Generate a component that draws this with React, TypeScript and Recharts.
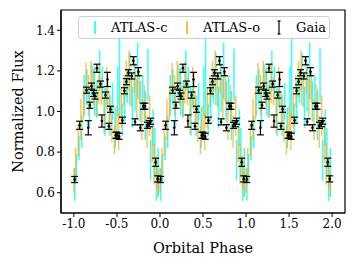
import { ComposedChart, Scatter, ErrorBar, XAxis, YAxis, ReferenceArea } from 'recharts';

// one orbital cycle, drawn again at phase -1, 0 and +1
const cycles = [-1, 0, 1];

const atlasCPhase = [0.01, 0.03, 0.06, 0.09, 0.12, 0.15, 0.18, 0.21, 0.24, 0.27, 0.3, 0.33, 0.36, 0.39, 0.42, 0.45, 0.48, 0.51, 0.53, 0.56, 0.59, 0.62, 0.65, 0.68, 0.71, 0.74, 0.77, 0.8, 0.83, 0.86, 0.89, 0.92, 0.94, 0.96, 0.98];
const atlasCFlux = [0.64, 0.72, 0.82, 0.9, 1.08, 1.12, 1.02, 1.15, 1.1, 1.06, 1.2, 1.14, 1.0, 1.08, 0.98, 1.05, 0.92, 1.1, 1.16, 0.96, 1.05, 1.12, 1.16, 1.02, 1.12, 1.2, 1.05, 1.1, 0.98, 1.18, 0.76, 0.92, 0.8, 0.66, 0.7];
const atlasCErr = [0.08, 0.07, 0.06, 0.08, 0.1, 0.09, 0.1, 0.08, 0.12, 0.09, 0.1, 0.08, 0.12, 0.07, 0.1, 0.09, 0.1, 0.12, 0.2, 0.08, 0.1, 0.08, 0.13, 0.1, 0.12, 0.14, 0.1, 0.08, 0.12, 0.13, 0.1, 0.09, 0.12, 0.1, 0.12];

const atlasOPhase = [0.0, 0.02, 0.05, 0.08, 0.11, 0.14, 0.17, 0.2, 0.23, 0.26, 0.29, 0.32, 0.35, 0.38, 0.41, 0.44, 0.47, 0.5, 0.52, 0.55, 0.58, 0.61, 0.64, 0.67, 0.7, 0.73, 0.76, 0.79, 0.82, 0.85, 0.88, 0.91, 0.93, 0.96, 0.98];
const atlasOFlux = [0.66, 0.74, 0.86, 0.96, 1.04, 1.16, 1.08, 1.18, 1.12, 1.05, 1.14, 1.1, 0.98, 1.12, 1.02, 0.94, 0.86, 0.95, 0.9, 1.02, 1.1, 1.16, 1.2, 1.1, 1.18, 1.06, 1.12, 0.96, 1.04, 0.9, 0.98, 0.84, 0.74, 0.7, 0.64];
const atlasOErr = [0.06, 0.08, 0.08, 0.1, 0.08, 0.08, 0.1, 0.07, 0.09, 0.08, 0.1, 0.07, 0.09, 0.1, 0.08, 0.09, 0.07, 0.08, 0.09, 0.1, 0.08, 0.09, 0.1, 0.08, 0.09, 0.1, 0.08, 0.1, 0.09, 0.08, 0.1, 0.09, 0.1, 0.08, 0.06];

const gaiaPhase = [0.008, 0.066, 0.147, 0.167, 0.186, 0.205, 0.228, 0.244, 0.267, 0.309, 0.325, 0.367, 0.39, 0.406, 0.425, 0.487, 0.5, 0.525, 0.564, 0.587, 0.61, 0.633, 0.672, 0.691, 0.711, 0.749, 0.772, 0.807, 0.826, 0.853, 0.876, 0.892, 0.95, 0.973];
const gaiaFlux = [0.665, 0.932, 1.105, 0.92, 1.031, 1.125, 1.089, 1.076, 1.213, 1.135, 0.953, 1.081, 1.158, 0.927, 1.011, 0.883, 0.883, 0.878, 0.957, 1.102, 1.147, 1.191, 1.175, 1.25, 0.949, 1.196, 0.92, 1.026, 1.026, 0.932, 0.94, 0.952, 0.75, 0.668];
const gaiaErr = [0.015, 0.02, 0.015, 0.035, 0.015, 0.015, 0.015, 0.015, 0.02, 0.015, 0.03, 0.015, 0.035, 0.015, 0.015, 0.015, 0.015, 0.015, 0.015, 0.015, 0.015, 0.015, 0.015, 0.02, 0.015, 0.02, 0.015, 0.015, 0.015, 0.015, 0.015, 0.015, 0.02, 0.015];

const xTicks = [-1, -0.5, 0, 0.5, 1, 1.5, 2];
const yTicks = [0.6, 0.8, 1.0, 1.2, 1.4];

const fold = (ph: number[], fl: number[], er: number[]) =>
  cycles.flatMap((c) => ph.map((p, i) => ({ x: p + c, y: fl[i], err: er[i] })));

const atlasC = fold(atlasCPhase, atlasCFlux, atlasCErr);
const atlasO = fold(atlasOPhase, atlasOFlux, atlasOErr);
const gaia = fold(gaiaPhase, gaiaFlux, gaiaErr);

const FONT = '"DejaVu Serif", serif';
const CYAN = '#00ffff';
const ORANGE = '#ffa500';

const noShape = () => <g />;
const dot = (p: any) => <circle cx={p.cx} cy={p.cy} r={1.3} fill="#000" />;

const Legend = () => (
  <div
    style={{
      position: 'absolute', left: 78, top: 16, width: 250, height: 21,
      border: '1px solid #d0d0d0', borderRadius: 3, background: 'rgba(255,255,255,0.8)',
      fontFamily: FONT, fontSize: 13, color: '#000',
    }}
  >
    <svg width={250} height={21} style={{ position: 'absolute', left: 0, top: 0 }}>
      <line x1={16} x2={16} y1={4} y2={17} stroke={CYAN} strokeWidth={1.5} />
      <line x1={108} x2={108} y1={4} y2={17} stroke={ORANGE} strokeWidth={1.5} />
      <line x1={200} x2={200} y1={4} y2={17} stroke="#000" strokeWidth={1.2} />
      <line x1={198.5} x2={201.5} y1={4} y2={4} stroke="#000" strokeWidth={1.2} />
      <line x1={198.5} x2={201.5} y1={17} y2={17} stroke="#000" strokeWidth={1.2} />
      <text x={32} y={15} fontFamily={FONT} fontSize={13}>ATLAS-c</text>
      <text x={124} y={15} fontFamily={FONT} fontSize={13}>ATLAS-o</text>
      <text x={217} y={15} fontFamily={FONT} fontSize={13}>Gaia</text>
    </svg>
  </div>
);

export default function App() {
  return (
    <div style={{ position: 'absolute', left: 0, top: 0, width: 356, height: 266, background: '#fff' }}>
      <ComposedChart width={356} height={266} margin={{ top: 10, right: 11, bottom: 0, left: 0 }}>
        <XAxis
          type="number" dataKey="x" domain={[-1.15, 2.15]} ticks={xTicks} height={53}
          tickFormatter={(v: number) => v.toFixed(1)} interval={0} allowDataOverflow
          axisLine={{ stroke: '#000', strokeWidth: 1.2 }} tickLine={{ stroke: '#000' }} tickSize={4}
          tick={{ fill: '#000', fontFamily: FONT, fontSize: 12 }}
          label={{
            content: (props: any) => {
              const vb = props.viewBox;
              return (
                <text x={vb.x + vb.width / 2} y={252.5} textAnchor="middle" fontFamily={FONT} fontSize={14.5} fill="#000">
                  Orbital Phase
                </text>
              );
            },
          }}
        />
        <YAxis
          type="number" dataKey="y" domain={[0.5, 1.5]} ticks={yTicks} width={61}
          tickFormatter={(v: number) => v.toFixed(1)} interval={0} allowDataOverflow
          axisLine={{ stroke: '#000', strokeWidth: 1.2 }} tickLine={{ stroke: '#000' }} tickSize={4}
          tick={{ fill: '#000', fontFamily: FONT, fontSize: 12 }}
          label={{
            content: (props: any) => {
              const vb = props.viewBox;
              const cx = 18;
              const cy = vb.y + vb.height / 2;
              return (
                <text x={cx} y={cy} transform={`rotate(-90 ${cx} ${cy})`} textAnchor="middle"
                  dominantBaseline="central" fontFamily={FONT} fontSize={14.5} fill="#000">
                  Normalized Flux
                </text>
              );
            },
          }}
        />
        <Scatter name="ATLAS-c" data={atlasC} shape={noShape} isAnimationActive={false}>
          <ErrorBar dataKey="err" direction="y" width={0} stroke={CYAN} strokeOpacity={0.8} strokeWidth={1.5} isAnimationActive={false} />
        </Scatter>
        <Scatter name="ATLAS-o" data={atlasO} shape={noShape} isAnimationActive={false}>
          <ErrorBar dataKey="err" direction="y" width={0} stroke={ORANGE} strokeOpacity={0.65} strokeWidth={1.5} isAnimationActive={false} />
        </Scatter>
        <Scatter name="Gaia" data={gaia} shape={dot} isAnimationActive={false}>
          <ErrorBar dataKey="err" direction="y" width={3.5} stroke="#000" strokeWidth={1.2} isAnimationActive={false} />
        </Scatter>
        <ReferenceArea x1={-1.15} x2={2.15} y1={0.5} y2={1.5} fill="none" stroke="#000" strokeWidth={1.2} ifOverflow="visible" />
      </ComposedChart>
      <Legend />
    </div>
  );
}
